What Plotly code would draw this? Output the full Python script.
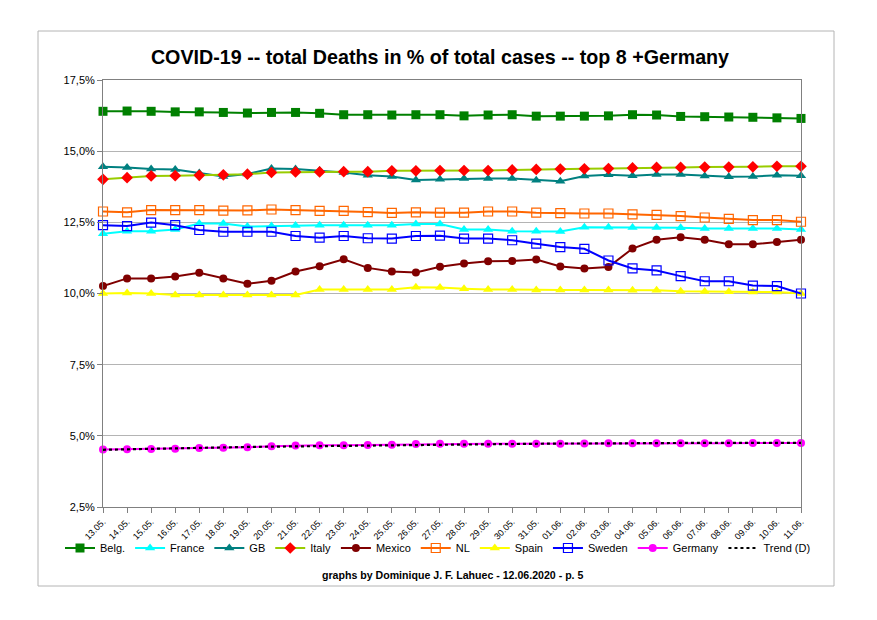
import plotly.graph_objects as go

dates = ["13.05.", "14.05.", "15.05.", "16.05.", "17.05.", "18.05.", "19.05.", "20.05.",
         "21.05.", "22.05.", "23.05.", "24.05.", "25.05.", "26.05.", "27.05.", "28.05.",
         "29.05.", "30.05.", "31.05.", "01.06.", "02.06.", "03.06.", "04.06.", "05.06.",
         "06.06.", "07.06.", "08.06.", "09.06.", "10.06.", "11.06."]

belg = [16.40, 16.41, 16.40, 16.38, 16.38, 16.36, 16.34, 16.36, 16.36, 16.33,
        16.28, 16.28, 16.27, 16.28, 16.28, 16.24, 16.27, 16.28, 16.23, 16.23,
        16.23, 16.24, 16.28, 16.27, 16.22, 16.21, 16.20, 16.19, 16.17, 16.15]
france = [12.10, 12.19, 12.19, 12.25, 12.46, 12.46, 12.35, 12.37, 12.39, 12.40,
          12.40, 12.40, 12.40, 12.44, 12.44, 12.25, 12.25, 12.19, 12.19, 12.18,
          12.33, 12.33, 12.32, 12.32, 12.31, 12.28, 12.28, 12.28, 12.28, 12.25]
gb = [14.45, 14.43, 14.37, 14.36, 14.23, 14.11, 14.20, 14.39, 14.37, 14.32,
      14.25, 14.15, 14.11, 13.99, 14.01, 14.04, 14.04, 14.04, 13.98, 13.94,
      14.13, 14.17, 14.14, 14.18, 14.18, 14.13, 14.10, 14.11, 14.15, 14.14]
italy = [14.01, 14.07, 14.13, 14.14, 14.15, 14.17, 14.19, 14.25, 14.27, 14.27,
         14.28, 14.28, 14.31, 14.31, 14.32, 14.32, 14.32, 14.34, 14.36, 14.37,
         14.38, 14.39, 14.41, 14.43, 14.43, 14.44, 14.44, 14.45, 14.47, 14.47]
mexico = [10.26, 10.53, 10.53, 10.60, 10.73, 10.53, 10.34, 10.45, 10.77, 10.96,
          11.20, 10.90, 10.77, 10.74, 10.94, 11.05, 11.13, 11.14, 11.19, 10.95,
          10.88, 10.93, 11.58, 11.89, 11.98, 11.89, 11.73, 11.73, 11.81, 11.89]
nl = [12.88, 12.85, 12.93, 12.93, 12.93, 12.91, 12.92, 12.95, 12.93, 12.90,
      12.90, 12.86, 12.83, 12.85, 12.84, 12.84, 12.88, 12.88, 12.84, 12.82,
      12.81, 12.81, 12.78, 12.76, 12.72, 12.67, 12.62, 12.58, 12.58, 12.52]
spain = [10.00, 10.02, 10.00, 9.95, 9.95, 9.95, 9.95, 9.95, 9.95, 10.14,
         10.14, 10.14, 10.14, 10.22, 10.21, 10.17, 10.14, 10.14, 10.12, 10.12,
         10.12, 10.12, 10.11, 10.11, 10.08, 10.07, 10.06, 10.05, 10.05, 10.00]
sweden = [12.40, 12.37, 12.49, 12.40, 12.23, 12.17, 12.17, 12.17, 12.02, 11.96,
          12.02, 11.94, 11.93, 12.02, 12.03, 11.93, 11.93, 11.87, 11.75, 11.63,
          11.57, 11.16, 10.88, 10.81, 10.61, 10.43, 10.43, 10.28, 10.26, 10.00]
germany = [4.52, 4.53, 4.54, 4.55, 4.57, 4.58, 4.60, 4.63, 4.66, 4.67,
           4.67, 4.68, 4.69, 4.71, 4.72, 4.72, 4.72, 4.72, 4.72, 4.72,
           4.73, 4.74, 4.74, 4.74, 4.74, 4.74, 4.74, 4.75, 4.75, 4.75]
trend_d = [4.51, 4.53, 4.55, 4.56, 4.58, 4.59, 4.61, 4.62, 4.63, 4.65,
           4.66, 4.67, 4.68, 4.69, 4.69, 4.70, 4.71, 4.72, 4.72, 4.73,
           4.73, 4.74, 4.74, 4.74, 4.75, 4.75, 4.75, 4.75, 4.75, 4.75]

ytick_vals = [2.5, 5.0, 7.5, 10.0, 12.5, 15.0, 17.5]
ytick_text = ["2,5%", "5,0%", "7,5%", "10,0%", "12,5%", "15,0%", "17,5%"]

series = [
    ("Belg.", belg, "#008000", "#008000", "square", 9),
    ("France", france, "#00FFFF", "#00FFFF", "triangle-up", 9),
    ("GB", gb, "#008080", "#008080", "triangle-up", 9),
    ("Italy", italy, "#99CC00", "#FF0000", "diamond", 9),
    ("Mexico", mexico, "#800000", "#800000", "circle", 8),
    ("NL", nl, "#FF6600", "#FF6600", "square-open", 9),
    ("Spain", spain, "#FFFF00", "#FFFF00", "triangle-up", 9),
    ("Sweden", sweden, "#0000FF", "#0000FF", "square-open", 9),
    ("Germany", germany, "#FF00FF", "#FF00FF", "circle", 8),
]

fig = go.Figure()
for name, vals, lc, mc, sym, sz in series:
    fig.add_trace(go.Scatter(
        x=dates, y=vals, name=name, mode="lines+markers",
        line=dict(color=lc, width=2),
        marker=dict(color=mc, symbol=sym, size=sz,
                    line=dict(color=mc, width=1.2 if "open" in sym else 0)),
        cliponaxis=False,
    ))
fig.add_trace(go.Scatter(
    x=dates, y=trend_d, name="Trend (D)", mode="lines",
    line=dict(color="black", width=2.2, dash="dot"),
    cliponaxis=False,
))

# page body has an 8px default margin; compensate so the drawn chart lands in place
off = 8
fig.update_layout(
    width=877, height=620,
    paper_bgcolor="white", plot_bgcolor="white",
    margin=dict(l=103 - off, r=877 - (801 - off), t=80 - off, b=620 - (507 - off)),
    separators=",.",
    font=dict(family="Arial, Liberation Sans, sans-serif", color="black", size=11),
    title=dict(text="<b>COVID-19 -- total Deaths in % of total cases -- top 8 +Germany</b>",
               x=(440 - off) / 877, xanchor="center", y=1 - (57 - off) / 620, yanchor="middle",
               font=dict(size=19.7, color="black")),
    showlegend=True,
    legend=dict(orientation="h", x=(60 - 103) / 698, xanchor="left", y=(507 - 548) / 427,
                yanchor="middle", font=dict(size=11), itemwidth=30,
                bgcolor="rgba(0,0,0,0)"),
    xaxis=dict(type="category", range=[0, len(dates) - 1], tickangle=-45,
               tickfont=dict(size=9), showgrid=False, showline=True,
               linecolor="#808080", linewidth=1, mirror=True,
               ticks="outside", ticklen=5, tickcolor="#808080"),
    yaxis=dict(range=[2.5, 17.5], tickvals=ytick_vals, ticktext=ytick_text,
               showgrid=True, gridcolor="#B4B4B4", gridwidth=1,
               showline=True, linecolor="#808080", linewidth=1, mirror=True,
               ticks="outside", ticklen=5, tickcolor="#808080", zeroline=False,
               tickfont=dict(size=11)),
    shapes=[dict(type="rect", xref="paper", yref="paper",
                 x0=(38 - 103) / 698, x1=(834 - 103) / 698,
                 y0=(507 - 586) / 427, y1=(507 - 31) / 427,
                 line=dict(color="#B4B4B4", width=1), layer="below")],
    annotations=[dict(text="<b>graphs by Dominique J. F. Lahuec - 12.06.2020 - p. 5</b>",
                      xref="paper", yref="paper", x=(453 - 103) / 698,
                      y=(507 - 575) / 427, xanchor="center", yanchor="middle",
                      showarrow=False, font=dict(size=10.6, color="black"))],
)

fig.write_html("out.html")
